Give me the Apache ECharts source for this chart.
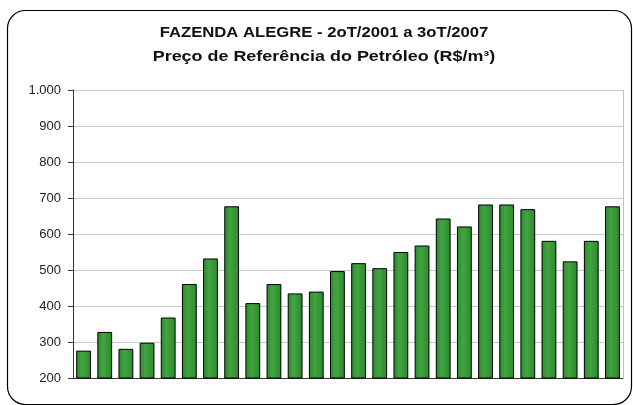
<!DOCTYPE html>
<html>
<head>
<meta charset="utf-8">
<script src="https://cdn.jsdelivr.net/npm/echarts@6/dist/echarts.min.js"></script>
<style>
  html, body { margin: 0; padding: 0; background: #fff; }
  #chart { width: 633px; height: 405px; }
</style>
</head>
<body>
<div id="chart"></div>
<script>
// trimestres 2oT/2001 .. 3oT/2007
var quarters = [
  '2T01', '3T01', '4T01',
  '1T02', '2T02', '3T02', '4T02',
  '1T03', '2T03', '3T03', '4T03',
  '1T04', '2T04', '3T04', '4T04',
  '1T05', '2T05', '3T05', '4T05',
  '1T06', '2T06', '3T06', '4T06',
  '1T07', '2T07', '3T07'
];
var prices = [
  276, 328, 281, 298, 368, 461, 532,
  677, 408, 461, 435, 440, 497, 519,
  505, 550, 568, 643, 621, 682, 682,
  669, 581, 524, 581, 677
];
var yTicks = [200, 300, 400, 500, 600, 700, 800, 900, 1000];
var titleLines = [
  'FAZENDA ALEGRE - 2oT/2001 a 3oT/2007',
  'Preço de Referência do Petróleo (R$/m³)'
];

var chart = echarts.init(document.getElementById('chart'));

var barFill = new echarts.graphic.LinearGradient(0, 0, 1, 0, [
  { offset: 0, color: '#2b8a2b' },
  { offset: 0.4, color: '#43a443' },
  { offset: 1, color: '#2b8a2b' }
]);

var titleFont = 'bold 14px "Liberation Sans", Arial, sans-serif';

var option = {
  backgroundColor: '#fff',
  animation: false,
  textStyle: { fontFamily: '"Liberation Sans", Arial, sans-serif' },
  graphic: [{
    type: 'rect',
    shape: { x: 7.5, y: 10.5, width: 624, height: 394, r: 18 },
    style: { fill: 'none', stroke: '#000', lineWidth: 1.2 },
    z: 100
  }, {
    type: 'line',
    shape: { x1: 623.5, y1: 90, x2: 623.5, y2: 378 },
    style: { stroke: '#c0c0c0', lineWidth: 1 },
    z: 1
  }, {
    // titulo, linha 1
    type: 'text',
    x: 324, y: 33.5,
    scaleX: 1.19,
    style: {
      text: titleLines[0], font: titleFont, fill: '#111',
      textAlign: 'center', textVerticalAlign: 'middle'
    },
    z: 50
  }, {
    // titulo, linha 2
    type: 'text',
    x: 324, y: 57,
    scaleX: 1.28,
    style: {
      text: titleLines[1], font: titleFont, fill: '#111',
      textAlign: 'center', textVerticalAlign: 'middle'
    },
    z: 50
  }],
  grid: { left: 73, right: 10, top: 90, bottom: 27 },
  xAxis: {
    type: 'category',
    data: quarters,
    axisLine: { show: true, lineStyle: { color: '#333', width: 1 } },
    axisTick: { show: false },
    axisLabel: { show: false }
  },
  yAxis: {
    type: 'value',
    min: yTicks[0],
    max: yTicks[yTicks.length - 1],
    interval: 100,
    axisLine: { show: true, lineStyle: { color: '#333', width: 1 } },
    axisTick: { show: true, length: 5, inside: false, lineStyle: { color: '#333' } },
    splitLine: { show: true, lineStyle: { color: '#c8c8c8', width: 1 } },
    axisLabel: {
      color: '#222',
      fontSize: 13,
      margin: 12,
      formatter: function (v) { return v >= 1000 ? '1.000' : String(v); }
    }
  },
  series: [{
    type: 'bar',
    data: prices,
    barWidth: '70%',
    itemStyle: {
      color: barFill,
      borderColor: '#000',
      borderWidth: 1
    }
  }]
};

chart.setOption(option);
</script>
</body>
</html>
